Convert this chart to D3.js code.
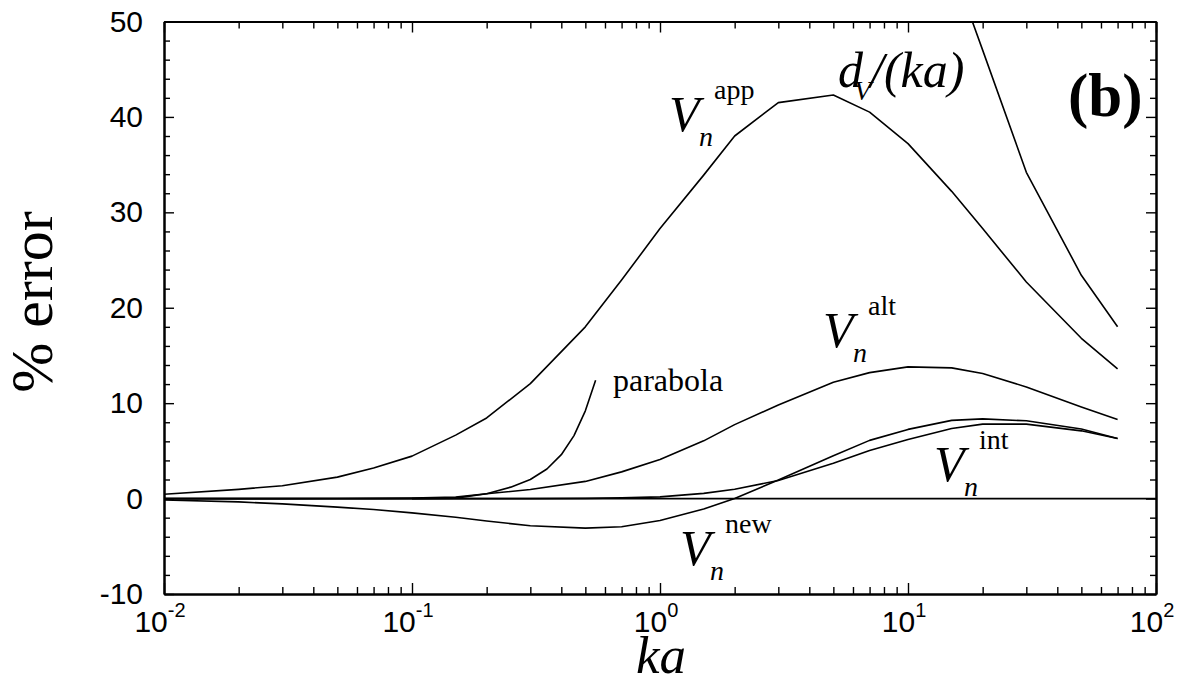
<!DOCTYPE html>
<html>
<head>
<meta charset="utf-8">
<script src="https://cdn.jsdelivr.net/npm/d3@7"></script>
<style>
  body { margin: 0; background: #fff; }
  svg { display: block; }
  .axis .domain { stroke: #000; stroke-width: 2; }
  .axis .tick line { stroke: #000; stroke-width: 1.4; }
  .axis text { font-family: "Liberation Sans", Arial, sans-serif; font-size: 30px; fill: #000; }
  .curve { fill: none; stroke: #000; stroke-width: 1.6; stroke-linejoin: round; }
  .serif { font-family: "Liberation Serif", "Times New Roman", serif; fill: #000; }
</style>
</head>
<body>
<svg id="chart" width="1179" height="681"></svg>
<script>
// Sampling points in ka shared by the four estimator curves
const ka = [0.01, 0.02, 0.03, 0.05, 0.07, 0.1, 0.15, 0.2, 0.3, 0.5, 0.7, 1, 1.5, 2, 3, 5, 7, 10, 15, 20, 30, 50, 70];

// Percentage error of each estimator
const vApp = [0.45, 0.97, 1.35, 2.25, 3.2, 4.45, 6.65, 8.45, 12.05, 18.0, 22.9, 28.3, 33.9, 38.0, 41.5, 42.3, 40.5, 37.2, 32.2, 28.3, 22.7, 16.8, 13.6];
const vAlt = [0, 0, 0, 0.01, 0.02, 0.05, 0.15, 0.5, 0.95, 1.8, 2.8, 4.1, 6.05, 7.75, 9.8, 12.2, 13.2, 13.8, 13.7, 13.1, 11.7, 9.6, 8.3];
const vInt = [0, 0, 0, 0, 0, 0, 0, 0, 0, 0.02, 0.07, 0.18, 0.55, 0.97, 1.9, 3.7, 5.05, 6.2, 7.35, 7.8, 7.8, 7.1, 6.3];
const vNew = [-0.15, -0.35, -0.55, -0.9, -1.15, -1.5, -1.95, -2.35, -2.85, -3.1, -2.95, -2.3, -1.1, 0.0, 1.95, 4.5, 6.1, 7.25, 8.2, 8.35, 8.15, 7.3, 6.3];

// Small-ka parabolic approximation
const kaParabola = [0.1, 0.15, 0.2, 0.25, 0.3, 0.35, 0.4, 0.45, 0.5, 0.55];
const vParabola = [0, 0.05, 0.5, 1.2, 2.0, 3.1, 4.6, 6.6, 9.2, 12.4];

// d_V/(ka), only visible at large ka (clipped at the top of the frame)
const kaDv = [15, 20, 30, 50, 70];
const vDv = [56, 47, 34.2, 23.4, 18.0];

// Axis ticks
const yTicks = [-10, 0, 10, 20, 30, 40, 50];
const xDecadeExps = [-2, -1, 0, 1, 2];

const svg = d3.select("#chart");
svg.append("rect").attr("width", 1179).attr("height", 681).attr("fill", "#fff");

const x = d3.scaleLog().domain([0.01, 100]).range([164, 1156]);
const y = d3.scaleLinear().domain([-10, 50]).range([594, 21.5]);

const xMajor = xDecadeExps.map(e => Math.pow(10, e));
const xMinor = [];
for (let e = -2; e < 2; e++) for (let m = 2; m <= 9; m++) xMinor.push(m * Math.pow(10, e));
const yMinor = d3.range(-10, 50.001, 2).filter(v => v % 10 !== 0);

// Minor ticks (all four sides)
svg.append("g").attr("class", "axis").attr("transform", `translate(0,${y(-10)})`)
  .call(d3.axisBottom(x).tickValues(xMinor).tickSizeInner(-7).tickSizeOuter(0).tickFormat(""));
svg.append("g").attr("class", "axis").attr("transform", `translate(0,${y(50)})`)
  .call(d3.axisTop(x).tickValues(xMinor).tickSizeInner(-7).tickSizeOuter(0).tickFormat(""));
svg.append("g").attr("class", "axis").attr("transform", `translate(${x(0.01)},0)`)
  .call(d3.axisLeft(y).tickValues(yMinor).tickSizeInner(-6).tickSizeOuter(0).tickFormat(""));
svg.append("g").attr("class", "axis").attr("transform", `translate(${x(100)},0)`)
  .call(d3.axisRight(y).tickValues(yMinor).tickSizeInner(-6).tickSizeOuter(0).tickFormat(""));

// Major ticks
svg.append("g").attr("class", "axis").attr("transform", `translate(0,${y(-10)})`)
  .call(d3.axisBottom(x).tickValues(xMajor).tickSizeInner(-11).tickSizeOuter(0).tickFormat(""));
svg.append("g").attr("class", "axis").attr("transform", `translate(0,${y(50)})`)
  .call(d3.axisTop(x).tickValues(xMajor).tickSizeInner(-11).tickSizeOuter(0).tickFormat(""));
svg.append("g").attr("class", "axis").attr("transform", `translate(${x(0.01)},0)`)
  .call(d3.axisLeft(y).tickValues(yTicks).tickSizeInner(-10).tickSizeOuter(0).tickPadding(21).tickFormat(d => String(d)));
svg.append("g").attr("class", "axis").attr("transform", `translate(${x(100)},0)`)
  .call(d3.axisRight(y).tickValues(yTicks).tickSizeInner(-10).tickSizeOuter(0).tickFormat(""));

// Power-of-ten labels on the ka axis
const xLab = svg.append("g").attr("font-family", "Liberation Sans, Arial, sans-serif");
xDecadeExps.forEach(e => {
  const t = xLab.append("text")
    .attr("x", x(Math.pow(10, e)) - 4)
    .attr("y", 632)
    .attr("text-anchor", "middle");
  t.append("tspan").attr("font-size", 30).text("10");
  t.append("tspan").attr("font-size", 20).attr("dy", -15).text(String(e));
});

// Curves
svg.append("clipPath").attr("id", "plotArea")
  .append("rect").attr("x", x(0.01)).attr("y", y(50)).attr("width", x(100) - x(0.01)).attr("height", y(-10) - y(50));
const plot = svg.append("g").attr("clip-path", "url(#plotArea)");
const line = d3.line().x(d => x(d[0])).y(d => y(d[1]));

// zero reference line
plot.append("path").attr("class", "curve").attr("d", line([[0.01, 0], [100, 0]]));

[vApp, vAlt, vInt, vNew].forEach(vals => {
  plot.append("path").attr("class", "curve").attr("d", line(ka.map((k, i) => [k, vals[i]])));
});
plot.append("path").attr("class", "curve").attr("d", line(kaParabola.map((k, i) => [k, vParabola[i]])));
plot.append("path").attr("class", "curve").attr("d", line(kaDv.map((k, i) => [k, vDv[i]])));

// Curve labels: V_n with a superscript tag
function vLabel(px, py, tag) {
  const g = svg.append("g").attr("class", "serif");
  g.append("text").attr("x", px).attr("y", py).attr("font-size", 50).attr("font-style", "italic").text("V");
  g.append("text").attr("x", px + 30).attr("y", py + 15).attr("font-size", 28).attr("font-style", "italic").text("n");
  g.append("text").attr("x", px + 45).attr("y", py - 32).attr("font-size", 28).text(tag);
}
vLabel(669, 131, "app");
vLabel(823, 347, "alt");
vLabel(934, 481, "int");
vLabel(680, 565, "new");

svg.append("text").attr("class", "serif").attr("x", 613).attr("y", 391).attr("font-size", 32).text("parabola");

const dv = svg.append("g").attr("class", "serif").attr("font-style", "italic");
dv.append("text").attr("x", 838).attr("y", 87).attr("font-size", 50).text("d");
dv.append("text").attr("x", 854).attr("y", 100).attr("font-size", 28).text("V");
dv.append("text").attr("x", 870).attr("y", 87).attr("font-size", 50).text("/(ka)");

svg.append("text").attr("class", "serif").attr("x", 1068).attr("y", 116)
  .attr("font-size", 61).attr("font-weight", "bold").text("(b)");

// Axis titles
svg.append("text").attr("class", "serif").attr("x", 661).attr("y", 673)
  .attr("text-anchor", "middle").attr("font-size", 53).attr("font-style", "italic").text("ka");
svg.append("text").attr("class", "serif").attr("transform", "translate(52,302) rotate(-90)")
  .attr("text-anchor", "middle").attr("font-size", 60).text("% error");
</script>
</body>
</html>
